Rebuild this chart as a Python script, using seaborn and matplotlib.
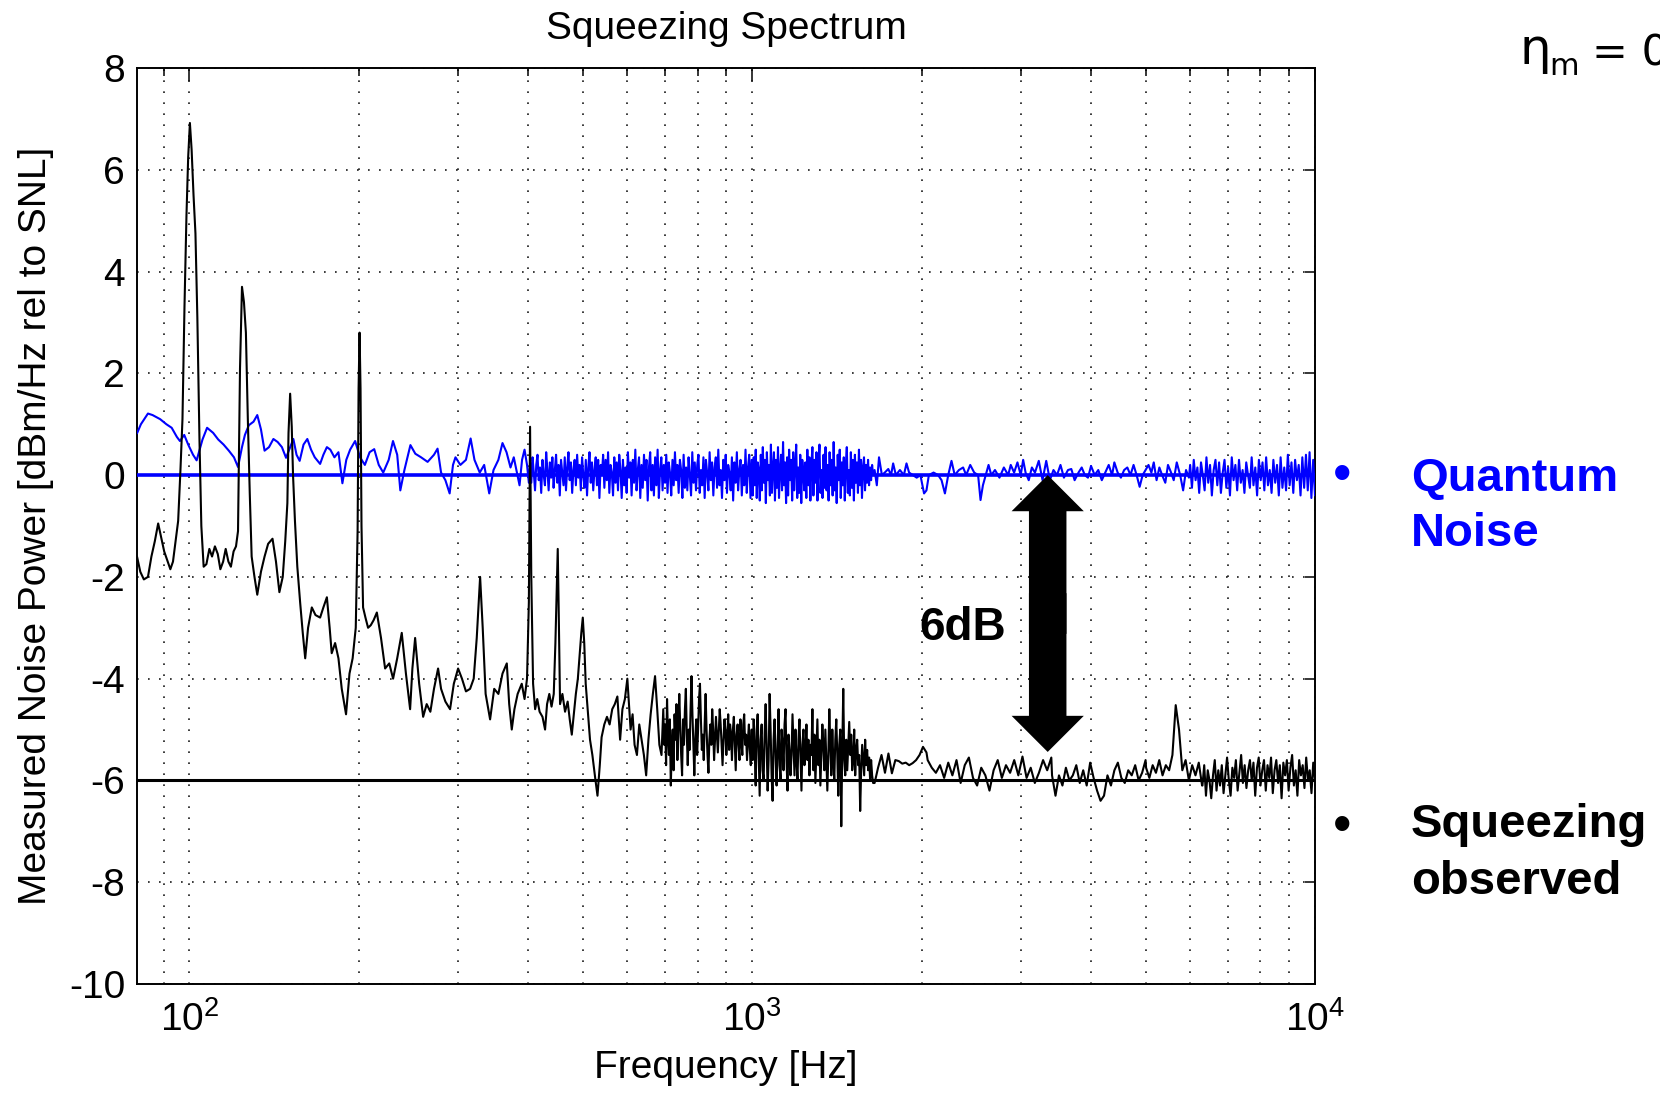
import numpy as np
import pandas as pd
import matplotlib
matplotlib.use("Agg")
import matplotlib.pyplot as plt
from matplotlib.patches import FancyArrowPatch
from matplotlib.ticker import LogLocator, LogFormatterSciNotation, NullFormatter, MultipleLocator
import seaborn as sns

# ---------------------------------------------------------------- data
F_MIN, F_MAX = 80.7, 10000.0
Y_MIN, Y_MAX = -10, 8
QN_LEVEL = 0.0        # shot-noise (quantum noise) reference level, dB
SQZ_LEVEL = -6.0      # squeezed level, dB
ARROW_HZ = 3350.0
ARROW_TOP = 0.0
ARROW_BOTTOM = -5.44

# squeezed-light spectrum, low band: (Hz, dB)
BLACK_LOW = [
    (80.7, -1.6), (81.8, -1.9), (83.0, -2.05), (84.4, -2.0), (85.6, -1.6), (86.8, -1.3),
    (88.0, -0.95), (89.0, -1.2), (90.2, -1.5), (91.5, -1.7), (92.5, -1.85), (93.5, -1.7),
    (94.5, -1.3), (95.5, -0.9), (96.4, 0.1), (97.2, 1.1), (98.0, 3.3), (98.8, 5.1),
    (99.5, 6.25), (100.2, 6.92), (100.9, 6.4), (101.7, 5.5), (102.5, 4.75), (103.3, 3.1),
    (104.2, 0.7), (105.0, -1.0), (106.0, -1.8), (107.2, -1.75), (108.5, -1.45), (109.7, -1.6),
    (111.0, -1.4), (112.3, -1.55), (113.5, -1.85), (114.8, -1.7), (116.0, -1.45), (117.3, -1.7),
    (118.5, -1.8), (119.8, -1.5), (121.0, -1.4), (122.0, -1.1), (123.0, 2.1), (124.0, 3.7),
    (125.0, 3.4), (126.0, 2.8), (127.0, 1.1), (128.0, -0.35), (129.0, -1.6), (130.5, -2.0),
    (132.0, -2.35), (134.0, -1.9), (136.0, -1.6), (138.0, -1.35), (140.5, -1.25), (142.5, -1.7),
    (144.5, -2.3), (146.5, -2.0), (148.0, -1.3), (149.3, -0.55), (150.0, 0.83), (151.0, 1.6),
    (152.0, 0.95), (152.8, 0.0), (154.0, -0.9), (155.5, -1.8), (157.3, -2.5), (159.0, -3.1),
    (160.6, -3.6), (162.5, -3.0), (165.0, -2.6), (167.5, -2.75), (170.7, -2.8), (173.0, -2.6),
    (175.5, -2.4), (177.5, -3.0), (179.0, -3.5), (181.5, -3.3), (184.0, -3.6), (186.5, -4.2),
    (189.8, -4.7), (192.5, -3.9), (195.0, -3.6), (197.5, -3.0), (199.0, -1.1), (199.8, 1.7),
    (200.6, 2.8), (201.4, 1.7), (202.2, -1.0), (203.5, -2.6), (205.5, -2.8), (207.7, -3.0),
    (210.0, -2.95), (212.5, -2.85), (215.3, -2.7), (219.0, -3.2), (222.7, -3.8), (226.5, -3.7),
    (230.1, -4.0), (234.0, -3.6), (238.4, -3.1), (242.5, -3.9), (246.7, -4.6), (249.0, -3.8),
    (251.8, -3.2), (256.0, -4.1), (260.2, -4.75), (264.0, -4.5), (268.0, -4.65), (272.0, -4.2),
    (276.6, -3.8), (280.0, -4.2), (285.0, -4.45), (290.5, -4.6), (295.0, -4.1), (300.2, -3.8),
    (305.0, -4.0), (310.0, -4.25), (315.3, -4.2), (320.0, -4.0), (324.0, -3.2), (328.5, -2.0),
    (332.0, -3.0), (336.0, -4.3), (342.2, -4.8), (348.0, -4.2), (354.0, -4.3), (360.0, -3.9),
    (366.4, -3.7), (370.0, -4.5), (373.9, -5.0), (378.0, -4.6), (383.0, -4.3), (389.5, -4.1),
    (394.0, -4.4), (398.0, -4.0), (401.0, -2.5), (403.0, 0.95), (405.0, -2.0), (408.0, -4.1),
    (411.4, -4.6), (415.0, -4.4), (419.0, -4.65), (424.0, -4.75), (428.5, -5.0), (432.0, -4.5),
    (436.0, -4.3), (440.0, -4.55), (444.0, -4.3), (447.0, -3.3), (449.5, -2.2), (451.3, -1.45),
    (453.0, -2.6), (455.6, -4.5), (460.0, -4.3), (465.0, -4.65), (470.0, -4.45), (474.0, -4.8),
    (478.0, -5.1), (482.0, -4.7), (486.0, -4.3), (490.0, -4.0), (494.0, -3.5), (497.0, -3.1),
    (500.0, -2.8), (503.0, -3.3), (506.0, -4.1), (510.0, -4.6), (515.0, -5.2), (520.0, -5.5),
    (526.0, -5.95), (531.0, -6.3), (536.0, -5.7), (540.0, -5.15), (546.0, -4.9), (552.0, -4.75),
    (558.0, -4.9), (564.0, -4.6), (570.0, -4.5), (576.0, -4.35), (582.5, -5.2), (588.0, -4.6),
    (594.0, -4.4), (600.0, -4.0), (604.0, -4.5), (608.0, -5.0), (613.0, -4.7), (618.0, -5.3),
    (624.0, -5.5), (630.0, -4.9), (636.0, -5.2), (642.0, -5.5), (648.0, -5.9), (654.0, -5.2),
    (660.0, -4.7), (666.0, -4.3), (672.0, -3.95), (678.0, -4.6), (684.0, -5.3), (690.0, -5.5),
]

# squeezed spectrum, dense band 695 Hz .. 1000 Hz (evenly spaced in log f)
BLACK_MID_A = [
    -4.6, -5.3, -4.9, -5.7, -4.4, -5.1, -5.5, -4.8, -6.1, -5.4,
    -5.0, -5.8, -4.7, -5.2, -4.5, -5.6, -5.0, -4.3, -4.9, -5.5,
    -5.9, -4.8, -5.3, -4.6, -4.2, -5.1, -5.7, -5.0, -5.4, -4.6,
    -3.95, -4.7, -5.3, -5.9, -5.2, -4.8, -5.5, -5.0, -4.4, -4.1,
    -4.8, -5.4, -5.1, -5.6, -4.9, -4.3, -5.0, -5.5, -5.85, -5.2,
    -4.9, -5.3, -4.6, -5.0, -5.6, -5.2, -4.75, -5.1, -5.45, -5.0,
    -4.6, -4.9, -5.3, -5.7, -5.2, -4.8, -5.0, -5.5, -5.2, -4.7,
    -5.4, -4.9, -5.1, -5.6, -5.0, -4.75, -5.3, -5.8, -5.1, -4.9,
    -5.3, -5.6, -4.8, -5.2, -5.5, -4.9, -4.7, -5.3, -5.1, -5.6,
    -5.2, -4.9, -5.4, -5.7, -5.0,
]
# squeezed spectrum, dense band 1000 Hz .. 1640 Hz (evenly spaced in log f)
BLACK_MID_B = [
    -5.6, -4.8, -5.4, -6.1, -5.0, -4.7, -5.5, -6.3, -5.2, -4.9,
    -5.8, -6.0, -5.1, -4.5, -5.3, -6.2, -5.6, -4.3, -5.0, -5.9,
    -6.4, -5.2, -4.8, -5.5, -6.1, -5.4, -4.6, -5.7, -6.0, -5.0,
    -5.3, -5.8, -4.9, -4.6, -5.6, -6.2, -5.1, -5.4, -5.9, -5.5,
    -4.7, -5.3, -5.9, -5.0, -5.6, -6.0, -5.2, -4.8, -5.5, -6.2,
    -5.3, -5.0, -5.7, -5.4, -4.9, -5.6, -5.2, -5.9, -5.3, -5.5,
    -4.6, -5.8, -5.1, -6.05, -5.4, -4.8, -5.7, -5.2, -6.1, -5.5,
    -4.9, -5.3, -5.8, -5.0, -5.6, -6.2, -5.5, -4.6, -5.3, -5.9,
    -5.0, -5.6, -6.0, -5.2, -4.8, -5.5, -6.3, -5.3, -5.0, -6.9,
    -5.4, -4.2, -5.6, -5.9, -5.2, -5.8, -5.3, -4.85, -5.5, -5.1,
    -5.8, -5.6, -5.0, -5.9, -5.4, -5.2, -5.7, -5.5, -6.6, -5.8,
    -5.3, -5.6, -5.9, -5.2, -5.7, -5.4, -5.8, -5.55, -6.0, -5.6,
    -5.9, -6.05,
]
# quieter stretches above 1.6 kHz, each evenly spaced in log f
BLACK_Q1 = [-6.05, -5.75, -5.5, -5.85, -5.47, -5.86, -5.6, -5.62, -5.67, -5.65, -5.7,
            -5.66, -5.6, -5.5, -5.34, -5.45]                                   # 1640-2040 Hz
BLACK_Q2 = [-5.6, -5.75, -5.85, -5.7, -5.95, -5.65, -5.9, -5.6, -6.05, -5.7, -5.55,
            -5.95, -6.1, -5.75, -5.9, -6.2, -5.8, -5.6, -5.95, -5.7, -5.85, -5.6, -5.9,
            -5.53, -5.95, -5.75, -6.05, -5.85, -5.6, -5.8, -5.55]              # 2040-3400 Hz
BLACK_Q3 = [-5.9, -6.3, -5.9, -6.1, -5.75, -6.0, -5.9, -5.7, -6.05, -5.8, -6.1, -5.65,
            -5.95, -6.2, -6.4, -6.3, -5.9, -6.1, -5.8, -5.65, -5.95, -6.05, -5.8, -5.9,
            -5.7, -6.0, -5.85, -5.6]                                           # 3400-5000 Hz
BLACK_Q4 = [-5.75, -5.95, -5.7, -5.85, -5.6, -5.9, -5.7, -5.8, -5.5, -4.52, -5.0, -5.8,
            -5.6, -6.0, -5.7, -5.9, -5.65, -6.1]                               # 5000-6300 Hz
BLACK_HI = [-6.1, -5.7, -6.3, -5.8, -6.0, -6.35, -5.9, -5.6, -6.2, -5.8, -6.1, -5.7,
            -6.25, -5.9, -5.55, -6.0, -6.3, -5.75, -5.95, -5.6, -6.2, -5.85, -5.5, -6.05,
            -5.7, -6.15, -5.8, -5.6, -6.0, -5.65, -6.3, -5.75, -5.55, -6.1, -5.8, -5.6,
            -6.2, -5.7, -5.95, -5.55, -6.25, -5.8, -5.6, -6.05, -5.7, -6.35, -5.65, -5.9,
            -5.6, -6.2, -5.75, -5.5, -6.1, -5.8, -6.3, -5.6, -5.9, -5.7, -6.15, -5.55,
            -6.0, -5.8, -6.25, -5.65, -6.0]                                    # 6300-10000 Hz

# quantum-noise (shot-noise) spectrum, low band: (Hz, dB)
BLUE_LOW = [
    (80.7, 0.82), (82.0, 1.0), (84.4, 1.21), (86.0, 1.18), (88.7, 1.1), (91.0, 1.0),
    (93.0, 0.93), (95.0, 0.75), (96.2, 0.67), (97.9, 0.79), (99.5, 0.6), (101.5, 0.4),
    (103.0, 0.29), (105.5, 0.7), (107.5, 0.93), (110.2, 0.83), (112.5, 0.7), (115.0, 0.6),
    (117.5, 0.48), (120.0, 0.35), (122.0, 0.16), (124.0, 0.55), (125.5, 0.79), (127.5, 0.98),
    (130.0, 1.05), (132.0, 1.18), (134.0, 0.9), (136.0, 0.48), (138.5, 0.55), (141.0, 0.71),
    (143.5, 0.65), (146.0, 0.55), (148.5, 0.34), (151.0, 0.55), (153.0, 0.71), (155.0, 0.4),
    (157.0, 0.28), (159.5, 0.6), (162.0, 0.71), (164.5, 0.5), (167.0, 0.35), (170.7, 0.22),
    (173.0, 0.4), (175.5, 0.55), (178.0, 0.5), (181.0, 0.35), (184.0, 0.45), (187.0, -0.16),
    (190.0, 0.3), (193.0, 0.5), (197.0, 0.67), (201.0, 0.35), (205.0, 0.2), (209.0, 0.45),
    (213.0, 0.51), (217.0, 0.2), (221.0, 0.05), (226.0, 0.3), (230.0, 0.67), (234.0, 0.4),
    (237.0, -0.3), (241.0, 0.1), (247.0, 0.59), (252.0, 0.42), (258.0, 0.35), (265.0, 0.26),
    (272.0, 0.4), (276.0, 0.52), (280.0, 0.05), (285.0, -0.1), (290.0, -0.36), (294.0, 0.2),
    (297.0, 0.35), (303.0, 0.2), (310.0, 0.3), (316.0, 0.72), (321.0, 0.3), (328.0, 0.05),
    (334.0, 0.2), (341.0, -0.36), (347.0, 0.1), (354.0, 0.3), (360.0, 0.63), (366.0, 0.45),
    (372.0, 0.15), (377.0, 0.35), (381.0, 0.1), (386.0, -0.2), (390.0, 0.3), (394.0, 0.5),
    (398.0, 0.2), (401.0, -0.15),
]
# quantum noise, dense band 403 Hz .. 1000 Hz (evenly spaced in log f)
BLUE_MID_A = [
    0.25, -0.15, 0.35, 0.05, -0.3, 0.2, 0.4, -0.1, 0.15, -0.35, 0.3, 0.0, -0.2, 0.45, 0.1,
    -0.3, 0.25, -0.05, 0.35, -0.25, 0.1, 0.4, -0.15, 0.2, -0.4, 0.3, 0.05, -0.2, 0.35, -0.3,
    0.15, 0.45, -0.1, 0.25, -0.35, 0.1, 0.3, -0.2, 0.4, -0.05, 0.2, -0.3, 0.35, 0.0, -0.25,
    0.3, -0.4, 0.15, 0.45, -0.15, 0.25, -0.3, 0.1, 0.35, -0.2, 0.3, -0.45, 0.2, 0.0, 0.4,
    -0.25, 0.3, -0.1, 0.45, -0.35, 0.2, 0.05, -0.4, 0.35, -0.15, 0.25, -0.3, 0.4, 0.1, -0.45,
    0.3, -0.2, 0.15, -0.35, 0.45, -0.05, 0.25, -0.4, 0.3, -0.15, 0.5, -0.3, 0.1, 0.35, -0.45,
    0.2, -0.25, 0.4, -0.1, 0.3, -0.5, 0.15, 0.45, -0.3, 0.2, -0.4, 0.35, -0.2, 0.5, -0.45,
    0.1, 0.35, -0.3, 0.2, -0.15, 0.4, -0.35, 0.25, 0.05, -0.4, 0.3, -0.2, 0.45, -0.1, 0.2,
    -0.35, 0.3, 0.1, -0.45, 0.4, -0.25, 0.15, -0.3, 0.35, 0.0, -0.4, 0.45, -0.15, 0.25, -0.3,
    0.2, 0.4, -0.35, 0.1, -0.2, 0.35, -0.45, 0.3, 0.05, -0.3, 0.45, -0.1, 0.25, -0.4, 0.15,
    0.35, -0.25, 0.5, -0.2, 0.1, -0.45, 0.3, -0.1, 0.4, -0.35, 0.2, 0.05, -0.3, 0.35, -0.5,
    0.25, -0.15, 0.45, -0.3, 0.1, 0.3, -0.4, 0.2, -0.2, 0.5, -0.35, 0.15, 0.4, -0.45, 0.3,
]
# quantum noise, dense band 1000 Hz .. 1640 Hz (evenly spaced in log f)
BLUE_MID_B = [
    -0.4, 0.35, -0.2, 0.5, -0.45, 0.25, 0.1, -0.5, 0.4, -0.3, 0.55, -0.15, 0.3, -0.55, 0.45,
    -0.1, 0.2, -0.4, 0.6, -0.35, 0.15, 0.45, -0.5, 0.3, -0.25, 0.55, -0.45, 0.1, 0.4, -0.3,
    0.65, -0.2, 0.25, -0.55, 0.35, -0.4, 0.5, -0.1, 0.3, -0.5, 0.45, -0.3, 0.2, 0.6, -0.45,
    0.15, -0.35, 0.4, -0.55, 0.3, 0.05, -0.3, 0.25, -0.45, 0.5, -0.2, 0.35, -0.5, 0.2, 0.55,
    -0.4, 0.3, -0.15, 0.45, -0.5, 0.25, 0.6, -0.35, 0.1, -0.45, 0.4, -0.25, 0.55, -0.3, 0.2,
    -0.5, 0.45, -0.2, 0.3, -0.4, 0.65, -0.3, 0.15, -0.55, 0.4, -0.1, 0.5, -0.45, 0.25, -0.2,
    0.35, -0.5, 0.2, 0.55, -0.35, 0.1, -0.4, 0.45, -0.25, 0.3, -0.5, 0.4, -0.15, 0.25, -0.35,
    0.5, -0.2, 0.3, -0.45, 0.15, 0.35, -0.3, 0.2, -0.15, 0.3, -0.2, 0.15, -0.1, 0.2, 0.0,
]
# quantum noise, quiet band: (Hz, dB)
BLUE_QUIET = [
    (1650, 0.1), (1665, -0.2), (1680, 0.35), (1700, 0.0), (1720, 0.05), (1745, 0.12),
    (1765, 0.0), (1780, 0.23), (1800, 0.0), (1830, 0.1), (1860, 0.0), (1880, 0.23),
    (1900, 0.05), (1930, 0.0), (1960, -0.05), (1990, 0.0), (2020, -0.36), (2040, -0.3),
    (2060, 0.0), (2100, 0.05), (2140, 0.0), (2170, -0.1), (2200, -0.36), (2230, 0.0),
    (2260, 0.28), (2290, 0.0), (2330, 0.1), (2370, 0.15), (2400, 0.0), (2440, 0.2),
    (2480, 0.05), (2520, 0.0), (2545, -0.49), (2570, -0.2), (2600, 0.0), (2630, 0.2),
    (2660, 0.0), (2700, 0.1), (2750, -0.05), (2800, 0.15), (2850, 0.0), (2880, 0.2),
    (2920, 0.05), (2960, 0.25), (3000, 0.0), (3030, 0.3), (3060, 0.05), (3100, -0.1),
    (3140, 0.15), (3180, 0.05), (3230, 0.28), (3280, -0.1), (3330, 0.28), (3380, -0.1),
    (3430, 0.1), (3480, 0.0), (3530, 0.2), (3580, -0.05), (3640, 0.1), (3690, 0.12),
    (3740, -0.1), (3800, 0.05), (3850, 0.15), (3900, 0.0), (3950, -0.05), (4000, 0.18),
    (4060, 0.0), (4120, 0.1), (4180, -0.1), (4240, 0.05), (4300, 0.2), (4360, 0.0),
    (4400, 0.25), (4460, 0.05), (4520, -0.05), (4580, 0.1), (4640, 0.15), (4700, 0.0),
    (4760, 0.2), (4820, 0.0), (4880, -0.23), (4940, 0.0), (5000, 0.1), (5060, 0.2),
    (5120, 0.05), (5170, 0.25), (5230, -0.1), (5290, 0.15), (5350, 0.0), (5420, -0.15),
    (5480, 0.2), (5550, 0.05), (5610, -0.1), (5680, 0.25), (5760, 0.0), (5830, -0.3),
    (5900, 0.1), (5970, -0.05),
]
# quantum noise, 6 kHz .. 10 kHz (evenly spaced in log f)
BLUE_HI = [
    0.2, -0.25, 0.3, -0.1, 0.15, -0.35, 0.25, 0.0, -0.3, 0.35, -0.15, 0.2, -0.4, 0.1, 0.3,
    -0.2, 0.25, -0.35, 0.05, 0.3, -0.25, 0.15, -0.4, 0.35, -0.1, 0.2, -0.3, 0.3, -0.15, 0.1,
    -0.35, 0.25, 0.0, -0.25, 0.35, -0.2, 0.15, -0.4, 0.3, -0.1, 0.25, -0.3, 0.35, -0.2, 0.1,
    -0.35, 0.3, -0.15, 0.2, -0.4, 0.35, -0.25, 0.15, -0.3, 0.4, -0.2, 0.25, -0.35, 0.3, -0.1,
    0.2, -0.4, 0.35, -0.25, 0.4, -0.3, 0.45, -0.45, 0.3, -0.4,
]


def log_band(f0, f1, values):
    """Spectrum stretch whose bins are evenly spaced in log frequency."""
    return pd.DataFrame({"hz": np.geomspace(f0, f1, len(values)), "db": values})


def pairs(rows):
    return pd.DataFrame(rows, columns=["hz", "db"])


black = pd.concat([
    pairs(BLACK_LOW),
    log_band(695, 998, BLACK_MID_A),
    log_band(1002, 1640, BLACK_MID_B),
    log_band(1650, 2040, BLACK_Q1),
    log_band(2050, 3400, BLACK_Q2),
    log_band(3410, 5000, BLACK_Q3),
    log_band(5010, 6300, BLACK_Q4),
    log_band(6310, F_MAX, BLACK_HI),
], ignore_index=True)

blue = pd.concat([
    pairs(BLUE_LOW),
    log_band(403, 998, BLUE_MID_A),
    log_band(1002, 1640, BLUE_MID_B),
    pairs(BLUE_QUIET),
    log_band(6000, F_MAX, BLUE_HI),
], ignore_index=True)

levels = pd.DataFrame({
    "hz": [F_MIN, F_MAX, F_MIN, F_MAX],
    "db": [QN_LEVEL, QN_LEVEL, SQZ_LEVEL, SQZ_LEVEL],
    "trace": ["qn", "qn", "sqz", "sqz"],
})

# ---------------------------------------------------------------- style
sns.set_theme(style="white")
plt.rcParams["font.family"] = ["Liberation Sans", "DejaVu Sans"]
plt.rcParams["mathtext.fontset"] = "custom"
plt.rcParams["mathtext.rm"] = "Liberation Sans"
plt.rcParams["mathtext.default"] = "regular"
plt.rcParams["axes.unicode_minus"] = False
for key in ("text.color", "axes.labelcolor", "xtick.color", "ytick.color"):
    plt.rcParams[key] = "black"

W, H = 1660, 1095
fig = plt.figure(figsize=(W / 100, H / 100), dpi=100)
fig.patch.set_facecolor("white")
ax = fig.add_axes([137 / W, 1 - 984 / H, 1178 / W, 916 / H])
ax.set_xscale("log")

BLUE = "#0000ff"

sns.lineplot(data=blue, x="hz", y="db", color=BLUE, lw=1.5, estimator=None,
             sort=False, ax=ax, zorder=3)
sns.lineplot(data=levels[levels.trace == "qn"], x="hz", y="db", color=BLUE, lw=2.6,
             estimator=None, sort=False, ax=ax, zorder=4)
sns.lineplot(data=levels[levels.trace == "sqz"], x="hz", y="db", color="black", lw=2.2,
             estimator=None, sort=False, ax=ax, zorder=4)
sns.lineplot(data=black, x="hz", y="db", color="black", lw=1.5, estimator=None,
             sort=False, ax=ax, zorder=5)

ax.set_xlim(F_MIN, F_MAX)
ax.set_ylim(Y_MIN, Y_MAX)
ax.yaxis.set_major_locator(MultipleLocator(2))
ax.xaxis.set_major_locator(LogLocator(base=10))
ax.xaxis.set_minor_locator(LogLocator(base=10, subs=np.arange(2, 10)))
ax.xaxis.set_major_formatter(LogFormatterSciNotation())
ax.xaxis.set_minor_formatter(NullFormatter())

# dotted grid
dots = dict(color="#1a1a1a", linestyle=(0, (1, 5.6)), linewidth=1.2)
ax.xaxis.grid(True, which="both", **dots)
ax.yaxis.grid(True, which="major", **dots)
ax.set_axisbelow(True)

for sp in ax.spines.values():
    sp.set_visible(True)
    sp.set_color("black")
    sp.set_linewidth(1.4)

ax.tick_params(which="both", direction="in", top=True, right=True, colors="black",
               width=1.1, labelsize=28)
ax.tick_params(axis="x", which="major", length=9, pad=12)
ax.tick_params(axis="x", which="minor", length=5.5)
ax.tick_params(axis="y", which="major", length=7, pad=8.5)

ax.set_title("Squeezing Spectrum", fontsize=28, pad=21, color="black")
ax.set_xlabel("Frequency [Hz]", fontsize=28, labelpad=8)
ax.set_ylabel("Measured Noise Power [dBm/Hz rel to SNL]", fontsize=28, labelpad=11)

# 6 dB double arrow between the two levels (two halves overlapping at the middle)
mid = 0.5 * (ARROW_TOP + ARROW_BOTTOM)
overlap = 0.4
for tip, start in ((ARROW_TOP, mid - overlap), (ARROW_BOTTOM, mid + overlap)):
    ax.add_patch(FancyArrowPatch(
        (ARROW_HZ, start), (ARROW_HZ, tip),
        arrowstyle="simple,head_length=26,head_width=52,tail_width=27",
        mutation_scale=1, color="black", lw=0, shrinkA=0, shrinkB=0, zorder=6))
ax.text(1980, -3.24, "6dB", fontsize=33, fontweight="bold", ha="left",
        va="baseline", color="black", zorder=7)


def ftext(x, y, s, **kw):
    fig.text(x / W, 1 - y / H, s, **kw)


# side notes
ftext(1342, 491, "\u2022", fontsize=38, color=BLUE, ha="center", va="baseline")
ftext(1411, 491, "Quantum", fontsize=34, fontweight="bold", color=BLUE, va="baseline")
ftext(1411, 546, "Noise", fontsize=34, fontweight="bold", color=BLUE, va="baseline")
ftext(1342, 842, "\u2022", fontsize=38, color="black", ha="center", va="baseline")
ftext(1411, 837, "Squeezing", fontsize=34, fontweight="bold", color="black", va="baseline")
ftext(1411, 894, "observed", fontsize=34, fontweight="bold", color="black", va="baseline")

ftext(1519, 64, "\u03b7", fontsize=36, family=["DejaVu Sans"], va="baseline")
ftext(1549, 75, "m", fontsize=22, family=["DejaVu Sans"], va="baseline")
ftext(1592, 66, "= 0", fontsize=31, family=["DejaVu Sans"], va="baseline")

fig.savefig("out.png", dpi=100, facecolor="white")
